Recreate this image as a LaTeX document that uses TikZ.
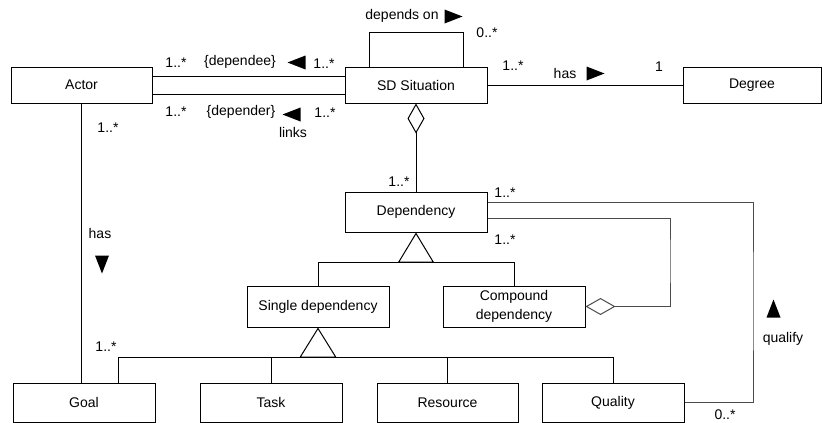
\documentclass[tikz,border=0pt]{standalone}
\usepackage{fontspec}
\setmainfont{Liberation Sans}
\usetikzlibrary{arrows.meta}
\begin{document}
\begin{tikzpicture}[x=1pt,y=-1pt,
  txt/.style={font=\fontsize{14}{18}\selectfont},
  cls/.style={txt, draw, line width=1pt, fill=white, inner sep=0pt, align=center},
  lbl/.style={txt, inner sep=0pt},
  conn/.style={line width=1pt},
  softconn/.style={line width=1pt, draw=black!70},
  agg/.style={{Diamond[open,length=30pt,width=17pt]}-},
  gen/.style={{Triangle[open,length=30pt,width=36pt]}-},
  dirmark/.pic={\fill (-9,-7) -- (9,0) -- (-9,7) -- cycle;}
]
\useasboundingbox (0,0) rectangle (822,423);

% classes
\node[cls, minimum width=141pt, minimum height=36pt] (actor)    at (81.5,85)   {Actor};
\node[cls, minimum width=142pt, minimum height=36pt] (sd)       at (416,85)    {SD Situation};
\node[cls, minimum width=138pt, minimum height=36pt] (degree)   at (752,85)    {Degree};
\node[cls, minimum width=142pt, minimum height=40pt] (dependency) at (416,212) {Dependency};
\node[cls, minimum width=142pt, minimum height=41pt] (single)   at (318,306.5) {Single dependency};
\node[cls, minimum width=142pt, minimum height=41pt] (compound) at (514,306.5) {Compound\\[1pt]dependency};
\node[cls, minimum width=142pt, minimum height=39pt] (goal)     at (84,402.5)  {Goal};
\node[cls, minimum width=142pt, minimum height=39pt] (task)     at (271,402.5) {Task};
\node[cls, minimum width=141pt, minimum height=39pt] (resource) at (447.5,402.5) {Resource};
\node[cls, minimum width=142pt, minimum height=39pt] (quality)  at (613,402.5) {Quality};

% bend points of the routed associations
\coordinate (cmpBend)  at (670,260);
\coordinate (qualBend) at (753,300);
\coordinate (genA) at ([yshift=-30pt]dependency.south);
\coordinate (genB) at ([yshift=-30pt]single.south);

% associations
\draw[conn] ([yshift=9pt]actor.east) -- ([yshift=9pt]sd.west);
\draw[conn] ([yshift=-9pt]actor.east) -- ([yshift=-9pt]sd.west);
\draw[conn] ([xshift=-47pt]sd.north) |- ([xshift=47pt,yshift=34pt]sd.north) -- ([xshift=47pt]sd.north);
\draw[conn] (sd) -- (degree);
\draw[conn] (actor.south) -- (actor.south |- goal.north);

% aggregations
\draw[conn, agg] (sd.south) -- (dependency.north);
\draw[softconn, agg] (compound.east) -| (cmpBend) |- ([yshift=-6pt]dependency.east);
\draw[softconn] ([yshift=10pt]dependency.east) -| (qualBend) |- (quality.east);

% generalizations
\draw[conn, gen] (dependency.south) -- (genA);
\draw[conn] (single.north) |- (genA) -| (compound.north);
\draw[conn, {Triangle[open,length=30pt,width=37pt]}-] (single.south) -- (genB);
\draw[conn] ([xshift=34pt]goal.north) |- (genB) -| (quality.north);
\draw[conn] (task.north) -- (task.north |- genB);
\draw[conn] (resource.north) -- (resource.north |- genB);

% multiplicities and role names
\node[lbl] (mActTop)  at (176,63)  {1..*};
\node[lbl] (rDependee) at (240,62) {\{dependee\}};
\node[lbl] (mSdTop)   at (324,64)  {1..*};
\node[lbl] (mActBot)  at (176,112) {1..*};
\node[lbl] (rDepender) at (241,112) {\{depender\}};
\node[lbl] (mSdBot)   at (325,113) {1..*};
\node[lbl] (aLinks)   at (293,132) {links};
\node[lbl] (aDepends) at (402,16)  {depends on};
\node[lbl] (mLoop)    at (487,33)  {0..*};
\node[lbl] (mSdDeg)   at (513,66)  {1..*};
\node[lbl] (aHasDeg)  at (565,73)  {has};
\node[lbl] (mDeg)     at (659,67)  {1};
\node[lbl] (mActGoal) at (108,128) {1..*};
\node[lbl] (aHasGoal) at (100,233) {has};
\node[lbl] (mGoal)    at (106,347) {1..*};
\node[lbl] (mDepAgg)  at (399,182) {1..*};
\node[lbl] (mDepQual) at (505,193) {1..*};
\node[lbl] (mDepCmp)  at (505,240) {1..*};
\node[lbl] (mQual)    at (725,415) {0..*};
\node[lbl] (aQualify) at (783,339) {qualify};

% reading-direction markers
\pic[rotate=180] at (296.5,62.5) {dirmark};
\pic[rotate=180] at (291.5,114.5) {dirmark};
\pic at (453.5,16.5) {dirmark};
\pic at (595.5,73.5) {dirmark};
\pic[rotate=-90] at (102,264.5) {dirmark};
\pic[rotate=90] at (773.5,308.5) {dirmark};
\end{tikzpicture}
\end{document}
